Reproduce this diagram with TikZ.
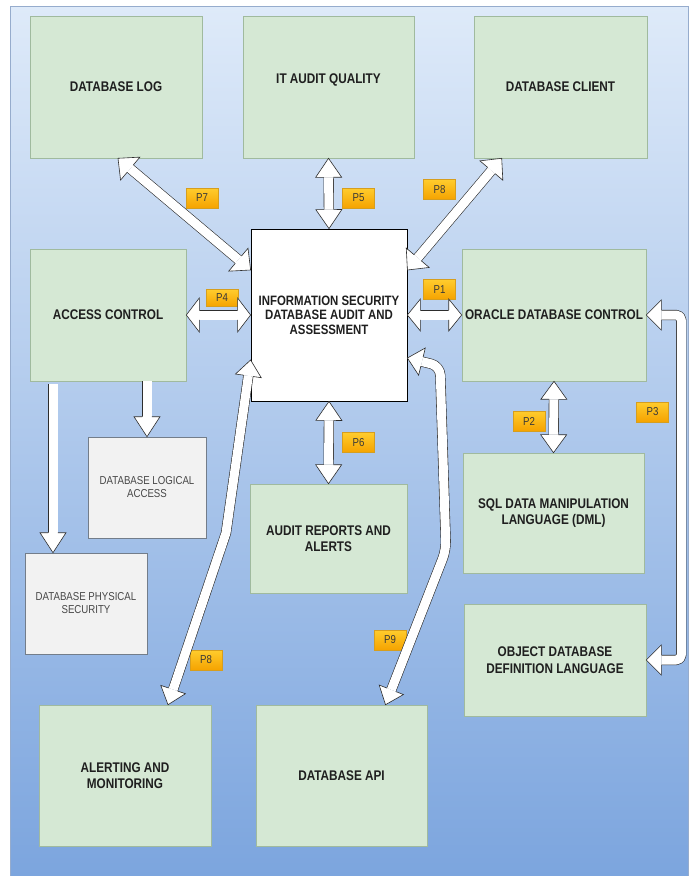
\documentclass[tikz,border=0pt]{standalone}
\usepackage{fontspec}
\setmainfont{Liberation Sans}
\newfontfamily\boxfont{Liberation Sans}[FakeStretch=0.84]
\usetikzlibrary{positioning,calc}

\definecolor{bgtop}{RGB}{222,234,249}
\definecolor{bgbot}{RGB}{124,165,222}
\definecolor{bgedge}{RGB}{150,172,205}
\definecolor{greenfill}{RGB}{213,232,212}
\definecolor{greenedge}{RGB}{160,186,158}
\definecolor{greyfill}{RGB}{242,242,242}
\definecolor{greyedge}{RGB}{115,125,138}
\definecolor{tagtop}{RGB}{255,204,45}
\definecolor{tagbot}{RGB}{245,163,0}
\definecolor{tagedge}{RGB}{214,158,30}
\definecolor{arrowline}{RGB}{45,45,45}

\tikzset{
  dbbox/.style={draw=greenedge, fill=greenfill, line width=0.6pt, align=center, inner sep=2pt,
    font=\boxfont\bfseries\fontsize{14}{16.5}\selectfont, text=black!88},
  accessbox/.style={draw=greyedge, fill=greyfill, line width=0.6pt, align=center, inner sep=2pt,
    font=\boxfont\fontsize{11.5}{13}\selectfont, text=black!72},
  mainbox/.style={draw=black, fill=white, line width=0.8pt, align=center, inner sep=2pt,
    font=\boxfont\bfseries\fontsize{13.6}{14.5}\selectfont, text=black!88},
  ptag/.style={draw=tagedge, top color=tagtop, bottom color=tagbot, line width=0.5pt,
    minimum width=32pt, minimum height=20pt, inner sep=0pt,
    font=\boxfont\fontsize{11.5}{12}\selectfont, text=black!78},
  shaft/.style={draw=arrowline, line width=0.6pt, double=white, double distance=9pt, line join=round}
}

% head of a block arrow: tip, point it comes from, length, half width
\newcommand{\blockhead}[4]{%
  \coordinate (hb) at ($(#1)!#3!(#2)$);
  \fill[white] (#1) -- ($(hb)!#4!90:(#1)$) -- ($(hb)!#4!-90:(#1)$) -- cycle;
  \draw[arrowline, line width=0.6pt]
    ($(hb)!4.8pt!90:(#1)$) -- ($(hb)!#4!90:(#1)$) -- (#1) -- ($(hb)!#4!-90:(#1)$) -- ($(hb)!4.8pt!-90:(#1)$);
}
% straight block arrow with two heads
\newcommand{\dblblock}[4]{%
  \draw[shaft, shorten <=#3, shorten >=#3] (#1) -- (#2);
  \blockhead{#1}{#2}{#3}{#4}
  \blockhead{#2}{#1}{#3}{#4}
}

\begin{document}
\begin{tikzpicture}[x=1pt,y=-1pt]
\useasboundingbox (0,0) rectangle (691,876);
% background panel
\shade[top color=bgtop, bottom color=bgbot, draw=bgedge, line width=0.6pt] (10,6) rectangle (688,876);

% top row
\node[dbbox, minimum width=172pt, minimum height=142pt] (dblog) at (116,87) {DATABASE LOG};
\node[dbbox, minimum width=171pt, minimum height=142pt, text depth=17pt] (quality) at (328.5,87) {IT AUDIT QUALITY};
\node[dbbox, minimum width=173pt, minimum height=142pt] (client) at (560.5,87) {DATABASE CLIENT};
% middle row
\node[dbbox, minimum width=156pt, minimum height=132pt] (access) at (108,315) {ACCESS CONTROL};
\node[mainbox, minimum width=156pt, minimum height=172pt] (infosec) at (329,315)
  {INFORMATION SECURITY\\DATABASE AUDIT AND\\ASSESSMENT};
\node[dbbox, minimum width=184pt, minimum height=132pt] (oracle) at (554,315) {ORACLE DATABASE CONTROL};
% access control children
\node[accessbox, minimum width=118pt, minimum height=101pt] (logical) at (147,487.5) {DATABASE LOGICAL\\ACCESS};
\node[accessbox, minimum width=122pt, minimum height=101pt] (physical) at (86,603.5) {DATABASE PHYSICAL\\SECURITY};
% lower boxes
\node[dbbox, minimum width=157pt, minimum height=109pt] (reports) at (328.5,538.5) {AUDIT REPORTS AND\\ALERTS};
\node[dbbox, minimum width=181pt, minimum height=120pt] (sql) at (553.5,513) {SQL DATA MANIPULATION\\LANGUAGE (DML)};
\node[dbbox, minimum width=182pt, minimum height=112pt] (ddl) at (555,660) {OBJECT DATABASE\\DEFINITION LANGUAGE};
\node[dbbox, minimum width=172pt, minimum height=141pt] (alerting) at (125,775.5) {ALERTING AND\\MONITORING};
\node[dbbox, minimum width=171pt, minimum height=141pt] (api) at (341.5,775.5) {DATABASE API};

% path tags
\node[ptag] (t7) at (202,198) {P7};
\node[ptag] (t5) at (358.5,198) {P5};
\node[ptag] (t8a) at (439.5,189.5) {P8};
\node[ptag, minimum height=17pt] (t4) at (222,298) {P4};
\node[ptag] (t1) at (439.5,289.5) {P1};
\node[ptag] (t6) at (358.5,442.5) {P6};
\node[ptag] (t2) at (529,421) {P2};
\node[ptag] (t3) at (652.5,412) {P3};
\node[ptag] (t8b) at (206,660) {P8};
\node[ptag] (t9) at (390,640) {P9};

% straight two-way arrows
\coordinate (logend) at ([xshift=2pt]dblog.south);
\coordinate (infolt) at ([yshift=45pt]infosec.west);
\coordinate (clientend) at ([xshift=28pt]client.south west);
\coordinate (infort) at ([yshift=45pt]infosec.east);
\dblblock{logend}{infolt}{16pt}{15pt}
\dblblock{quality.south}{infosec.north}{19pt}{13pt}
\dblblock{clientend}{infort}{16pt}{15pt}
\dblblock{access.east}{infosec.west}{13pt}{17pt}
\dblblock{infosec.east}{oracle.west}{13pt}{16pt}
\dblblock{infosec.south}{reports.north}{19pt}{13pt}
\dblblock{oracle.south}{sql.north}{18pt}{13pt}

% access control -> logical / physical
\coordinate (logstart) at (logical.north |- access.south);
\draw[shaft, shorten >=20pt] (logstart) -- (logical.north);
\blockhead{logical.north}{logstart}{20pt}{13pt}
\coordinate (physin) at ([xshift=-33pt]physical.north);
\coordinate (physstart) at ([yshift=-3pt]physin |- access.south);
\draw[shaft, shorten >=20pt] (physstart) -- (physin);
\blockhead{physin}{physstart}{20pt}{13pt}

% P3 elbow
\coordinate (p3a) at ([xshift=35pt]oracle.east);
\coordinate (p3b) at (p3a |- ddl.east);
\draw[shaft, rounded corners=5pt, shorten <=15pt, shorten >=15pt] (oracle.east) -- (p3a) -- (p3b) -- (ddl.east);
\blockhead{oracle.east}{p3a}{15pt}{15pt}
\blockhead{ddl.east}{p3b}{15pt}{15pt}

% P8 to alerting
\coordinate (p8s) at ([yshift=-45pt]infosec.west);
\coordinate (p8m) at (226,533);
\coordinate (p8e) at ([xshift=43pt]alerting.north);
\draw[shaft, shorten <=16pt, shorten >=16pt] (p8s) -- (p8m) -- (p8e);
\blockhead{p8s}{p8m}{16pt}{13pt}
\blockhead{p8e}{p8m}{16pt}{13pt}

% P9 to api
\coordinate (p9s) at ([yshift=-43pt]infosec.east);
\coordinate (p9a) at (440,366);
\coordinate (p9b) at (446,550);
\coordinate (p9e) at ([xshift=44pt]api.north);
\draw[shaft, rounded corners=9pt, shorten <=15pt, shorten >=16pt] (p9s) -- (p9a) -- (p9b) -- (p9e);
\blockhead{p9s}{p9a}{15pt}{14pt}
\blockhead{p9e}{p9b}{16pt}{13pt}
\end{tikzpicture}
\end{document}
